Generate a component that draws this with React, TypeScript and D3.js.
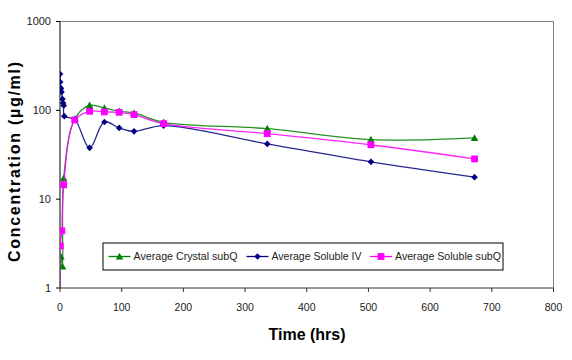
import React from "react";
import * as d3 from "d3";

const crystalTime = [0, 1.5, 4, 6, 24, 48, 72, 96, 120, 168, 336, 504, 672];
const crystalConc = [0.5, 2.26, 1.75, 17.2, 80, 114, 106, 97.5, 93.5, 73.3, 62.2, 46.8, 48.9];

const ivTime = [0.08, 0.25, 0.5, 1.5, 2.5, 4, 5, 6, 7, 24, 48, 72, 96, 120, 168, 336, 504, 672];
const ivConc = [256, 208, 181, 175, 161, 134, 121, 113, 86, 78.6, 37.8, 74, 63.4, 58, 67.3, 41.9, 26.3, 17.7];

const subqTime = [0, 0.5, 3, 6, 24, 48, 72, 96, 120, 168, 336, 504, 672];
const subqConc = [0.5, 2.98, 4.4, 14.5, 78, 97.5, 96, 95, 89.5, 70.9, 54.7, 41.0, 28.4];

const xTicks = [0, 100, 200, 300, 400, 500, 600, 700, 800];
const yTicks = [1, 10, 100, 1000];

const seriesNames = ["Average Crystal subQ", "Average Soluble IV", "Average Soluble subQ"];
const seriesColors = ["#008000", "#000080", "#FF00FF"];
const seriesShapes = ["triangle", "diamond", "square"];

const W = 572, H = 360;
const L = 60, R = 553.5, T = 21.5, B = 288;

export default function App() {
  const x = d3.scaleLinear().domain([0, 800]).range([L, R]);
  const y = d3.scaleLog().domain([1, 1000]).range([B, T]);
  const yc = (v: number) => y(Math.max(v, 0.05));

  const series = [
    { t: crystalTime, c: crystalConc },
    { t: ivTime, c: ivConc },
    { t: subqTime, c: subqConc },
  ];

  const line = d3
    .line<[number, number]>()
    .x((d) => x(d[0]))
    .y((d) => yc(d[1]))
    .curve(d3.curveCatmullRom.alpha(0.5));

  const marker = (shape: string, cx: number, cy: number, color: string, key: string) => {
    if (shape === "triangle") {
      const s = 3.8;
      return (
        <path key={key} d={`M${cx},${cy - s}L${cx + s},${cy + s * 0.8}L${cx - s},${cy + s * 0.8}Z`} fill={color} />
      );
    }
    if (shape === "diamond") {
      const s = 3.3;
      return <path key={key} d={`M${cx},${cy - s}L${cx + s},${cy}L${cx},${cy + s}L${cx - s},${cy}Z`} fill={color} />;
    }
    const s = 3.4;
    return <rect key={key} x={cx - s} y={cy - s} width={2 * s} height={2 * s} fill={color} />;
  };

  const legendX = [108.5, 246.5, 370];
  const legendLen = [104, 90, 106];
  const legendY = 256.5;

  return (
    <svg width={W} height={H} style={{ position: "absolute", left: 0, top: 0, background: "#fff" }}
      fontFamily="'Liberation Sans', Arial, sans-serif">
      <defs>
        <clipPath id="plotClip">
          <rect x={L} y={T} width={R - L} height={B - T} />
        </clipPath>
      </defs>
      <line x1={L} x2={R} y1={T} y2={T} stroke="#808080" strokeWidth={1} />
      <line x1={R} x2={R} y1={T} y2={B} stroke="#808080" strokeWidth={1} />
      <line x1={L} x2={L} y1={T} y2={B} stroke="#000" strokeWidth={1} />
      <line x1={L} x2={R} y1={B} y2={B} stroke="#333" strokeWidth={1} />
      {yTicks.map((v) => (
        <g key={"y" + v}>
          <line x1={L - 4} x2={L} y1={y(v)} y2={y(v)} stroke="#000" />
          <text x={51} y={y(v)} dy="0.35em" textAnchor="end" fontSize={11} fill="#222">
            {v}
          </text>
        </g>
      ))}
      {xTicks.map((v) => (
        <g key={"x" + v}>
          <line x1={x(v)} x2={x(v)} y1={B} y2={B + 4} stroke="#333" />
          <text x={x(v)} y={307} dy="0.35em" textAnchor="middle" fontSize={10.5} fill="#222">
            {v}
          </text>
        </g>
      ))}
      <text x={307} y={334} dy="0.35em" textAnchor="middle" fontSize={16} fontWeight="bold" fill="#000">
        Time (hrs)
      </text>
      <text
        transform={`translate(14,162) rotate(-90)`}
        textAnchor="middle"
        dy="0.35em"
        fontSize={16}
        fontWeight="bold"
        fill="#000"
        textLength={200}
        lengthAdjust="spacing"
      >
        Concentration (µg/ml)
      </text>
      <g clipPath="url(#plotClip)">
        {series.map((s, i) => {
          const pts = s.t.map((t, j) => [t, s.c[j]] as [number, number]);
          return (
            <g key={"s" + i}>
              <path d={line(pts) || ""} fill="none" stroke={seriesColors[i]} strokeWidth={1.3} strokeOpacity={0.85} />
              {pts
                .filter((p) => p[1] >= 1)
                .map((p, j) => marker(seriesShapes[i], x(p[0]), y(p[1]), seriesColors[i], i + "-" + j))}
            </g>
          );
        })}
      </g>
      <rect x={103} y={243} width={400} height={27} fill="#fff" stroke="#000" strokeWidth={1} />
      {seriesNames.map((n, i) => (
        <g key={"l" + i}>
          <line x1={legendX[i]} x2={legendX[i] + 22} y1={legendY} y2={legendY} stroke={seriesColors[i]} strokeWidth={1.3} />
          {marker(seriesShapes[i], legendX[i] + 11, legendY, seriesColors[i], "lm" + i)}
          <text x={legendX[i] + 25} y={legendY} dy="0.35em" fontSize={10.5} fill="#222"
            textLength={legendLen[i]} lengthAdjust="spacingAndGlyphs">
            {n}
          </text>
        </g>
      ))}
    </svg>
  );
}
